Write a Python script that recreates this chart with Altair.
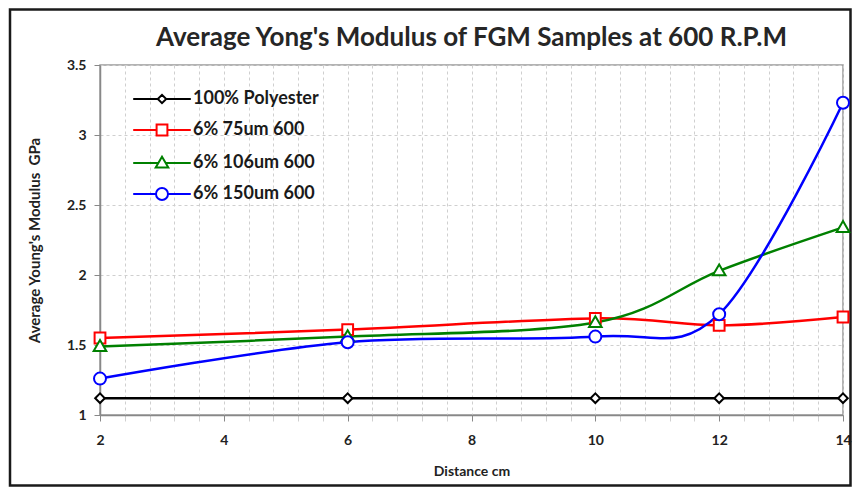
import altair as alt
import pandas as pd

# ---- data ----
distance = [2, 6, 10, 12, 14]
series_names = ["100% Polyester", "6% 75um 600", "6% 106um 600", "6% 150um 600"]
polyester = [1.12, 1.12, 1.12, 1.12, 1.12]
um75 = [1.55, 1.61, 1.69, 1.64, 1.70]
um106 = [1.49, 1.56, 1.66, 2.03, 2.34]
um150 = [1.26, 1.52, 1.56, 1.72, 3.23]
series_values = [polyester, um75, um106, um150]

x_major = [2, 4, 6, 8, 10, 12, 14]
x_minor = [round(2 + 0.4 * i, 1) for i in range(31)]
y_ticks = [1, 1.5, 2, 2.5, 3, 3.5]

colors = ["#000000", "#ff0000", "#008000", "#0000ff"]

# marker shapes (unit box -1..1)
marker_paths = [
    "M-0.8,0L0,-0.8L0.8,0L0,0.8Z",
    "M-0.9,-0.9H0.9V0.9H-0.9Z",
    "M0,-1.05L1.05,0.75H-1.05Z",
    "M-1,0A1,1 0 1,0 1,0A1,1 0 1,0 -1,0Z",
]
# legend symbols: marker with a line segment through it
seg = 4.8
legend_paths = [
    f"M-{seg},0H-0.7M0.7,0H{seg}M-0.7,0L0,-0.7L0.7,0L0,0.7Z",
    f"M-{seg},0H-0.9M0.9,0H{seg}M-0.9,-0.9H0.9V0.9H-0.9Z",
    f"M-{seg},0H-0.6M0.6,0H{seg}M0,-1.05L1.05,0.75H-1.05Z",
    f"M-{seg},0H-1M1,0H{seg}M-1,0A1,1 0 1,0 1,0A1,1 0 1,0 -1,0Z",
]

rows = []
for name, vals in zip(series_names, series_values):
    for d, v in zip(distance, vals):
        rows.append({"series": name, "distance": d, "value": v})
df = pd.DataFrame(rows)

FONT = "Lato"
MAJOR_LIST = "[" + ",".join(str(v) for v in x_major) + "]"
MAJOR_TEST = f"indexof({MAJOR_LIST}, datum.value) >= 0"

W, H = 743, 350
PAD = {"left": 92, "top": 57, "right": 9, "bottom": 72}

x_scale = alt.Scale(domain=[2, 14], nice=False, zero=False)
y_scale = alt.Scale(domain=[1, 3.5], nice=False, zero=False)

x_axis = alt.Axis(
    values=x_minor,
    labelExpr=MAJOR_TEST + " ? format(datum.value, 'd') : ''",
    labelOverlap=False,
    labelFlush=False,
    grid=True,
    gridDash=[3, 3],
    gridColor="#cfcfcf",
    tickColor={"condition": {"test": MAJOR_TEST, "value": "#888888"}, "value": "#d0d0d0"},
    tickSize=6,
    domainColor="#888888",
    domainWidth=1.5,
    labelFont=FONT,
    labelFontSize=14,
    labelFontWeight="bold",
    labelColor="#222222",
    labelPadding=12,
    title="Distance cm",
    titleFont=FONT,
    titleFontSize=14,
    titleFontWeight="bold",
    titleColor="#222222",
    titlePadding=17,
)
y_axis = alt.Axis(
    values=y_ticks,
    format="~g",
    labelOverlap=False,
    labelFlush=False,
    grid=True,
    gridDash=[3, 3],
    gridColor="#cfcfcf",
    tickColor="#888888",
    tickSize=6,
    domainColor="#888888",
    domainWidth=1.5,
    labelFont=FONT,
    labelFontSize=14,
    labelFontWeight="bold",
    labelColor="#222222",
    labelPadding=8,
    title="Average Young's Modulus\u00a0\u00a0GPa",
    titleFont=FONT,
    titleFontSize=15,
    titleFontWeight="bold",
    titleColor="#222222",
    titlePadding=24,
)

X = alt.X("distance:Q", scale=x_scale, axis=x_axis)
Y = alt.Y("value:Q", scale=y_scale, axis=y_axis)

color_scale = alt.Scale(domain=series_names, range=colors)

base = alt.Chart(df)

frame = alt.Chart(alt.Data(values=[{"k": 1}])).mark_rect(
    fill="transparent", stroke="#1a1a1a", strokeWidth=2.5
).encode(
    x=alt.value(-90), x2=alt.value(W + PAD["right"] - 1.5),
    y=alt.value(-55.5), y2=alt.value(H + PAD["bottom"] - 1.5)
)

lines = base.mark_line(interpolate="cardinal", strokeWidth=2.5).encode(
    x=X, y=Y,
    color=alt.Color("series:N", scale=color_scale, legend=None),
)

points = base.mark_point(filled=False, fill="white", strokeWidth=2, size=144, opacity=1).encode(
    x=X, y=Y,
    color=alt.Color("series:N", scale=color_scale, legend=None),
    shape=alt.Shape("series:N", scale=alt.Scale(domain=series_names, range=marker_paths), legend=None),
)

legend_kw = dict(
    title=None,
    orient="none",
    legendX=53,
    legendY=25,
    padding=0,
    labelFont=FONT,
    labelFontSize=18,
    labelFontWeight="bold",
    labelColor="#1a1a1a",
    labelOffset=22,
    symbolSize=144,
    symbolStrokeWidth=2,
    symbolFillColor="white",
    symbolOpacity=1,
    rowPadding=12,
)

legend_layer = base.transform_filter("false").mark_point(
    filled=False, fill="white", strokeWidth=2, size=144, opacity=1
).encode(
    x=X, y=Y,
    color=alt.Color("series:N", scale=color_scale, legend=alt.Legend(**legend_kw)),
    shape=alt.Shape("series:N", scale=alt.Scale(domain=series_names, range=legend_paths),
                    legend=alt.Legend(**legend_kw)),
)

chart = alt.layer(frame, lines, points, legend_layer).resolve_scale(
    color="independent", shape="independent"
).properties(
    width=W,
    height=H,
    padding=PAD,
    autosize=alt.AutoSizeParams(type="none"),
    background="white",
    title=alt.TitleParams(
        "Average Yong's Modulus of FGM Samples at 600 R.P.M",
        font=FONT, fontSize=26, fontWeight="bold", color="#262626",
        anchor="middle", frame="group", baseline="alphabetic", offset=-64,
    ),
).configure_view(stroke="#9a9a9a", strokeWidth=1.5).configure_axisX(labelOverlap=False)

chart.save("out.html", embed_options={"renderer": "svg", "actions": False})
